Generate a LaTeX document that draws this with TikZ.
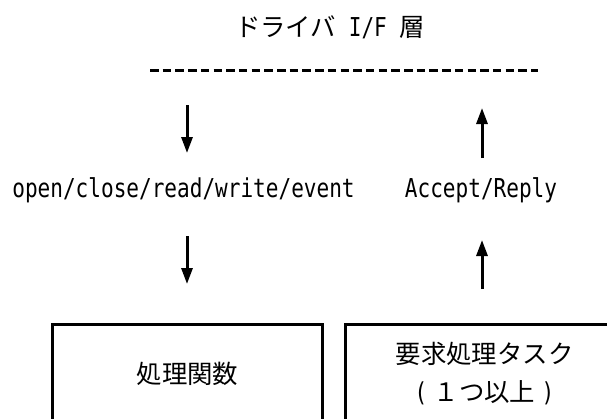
\documentclass[tikz,border=0pt]{standalone}
\usepackage{fontspec}
\setmainfont[FakeStretch=0.81]{DejaVu Sans Mono}
\newfontfamily\jp{Noto Sans CJK JP}
\usetikzlibrary{arrows.meta}
\newcommand\latt[1]{{\rmfamily\fontsize{26}{30}\selectfont #1}}
\tikzset{
  lat/.style={font=\rmfamily\fontsize{26}{30}\selectfont, inner sep=0pt, anchor=base},
  jpt/.style={font=\jp\fontsize{25.4}{38}\selectfont, inner sep=0pt, anchor=base},
  flow/.style={line width=3pt, -{Triangle[length=16pt,width=11pt]}},
  sepline/.style={line width=3pt, dash pattern=on 8.5pt off 4.2pt},
  blk/.style={draw, line width=3pt, inner sep=0pt, anchor=north west,
    font=\jp\fontsize{25.4}{38}\selectfont, align=center, minimum height=98pt},
}
\begin{document}
\begin{tikzpicture}[x=1pt,y=-1pt]
\clip (0,0) rectangle (607,418);
\node[jpt] (title) at (330,36.5) {ドライバ\latt{ I/F }層};
\coordinate (d1) at (150,70);
\coordinate (d2) at (538,70);
\draw[sepline] (d1) -- (d2);

\node[lat] (calls) at (183.5,197) {open/close/read/write/event};
\node[lat] (reply) at (481,197) {Accept/Reply};

\coordinate (l1s) at (187,105);
\coordinate (l1e) at (187,153);
\coordinate (l2s) at (187,236);
\coordinate (l2e) at (187,284);
\coordinate (r1s) at (482,158);
\coordinate (r1e) at (482,108);
\coordinate (r2s) at (482,289);
\coordinate (r2e) at (482,240);
\draw[flow] (l1s) -- (l1e);
\draw[flow] (l2s) -- (l2e);
\draw[flow] (r1s) -- (r1e);
\draw[flow] (r2s) -- (r2e);

\node[blk, minimum width=270.6pt] (func) at (50.7,323) {処理関数};
\node[blk, minimum width=277.6pt] (task) at (344.2,323)
  {要求処理タスク\\\makebox[25.4pt]{\latt{(}}１つ以上\makebox[25.4pt]{\latt{)}}};
\end{tikzpicture}
\end{document}
